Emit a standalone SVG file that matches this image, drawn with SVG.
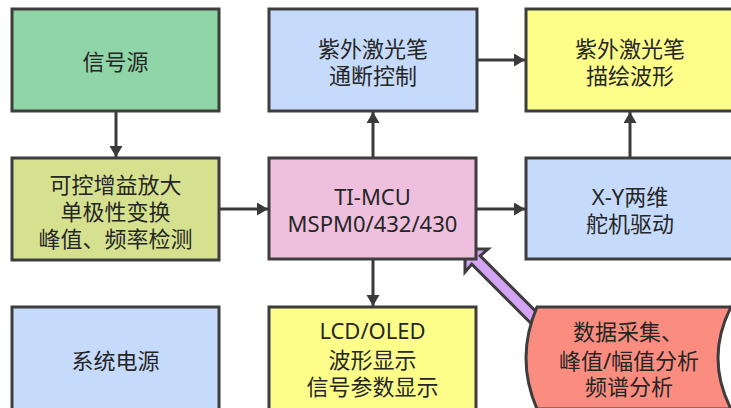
<svg xmlns="http://www.w3.org/2000/svg" width="731" height="408" viewBox="0 0 731 408">
<style>
.box{stroke:#3d3d3d;stroke-width:3}
.t{font-family:"Noto Sans","Noto Sans CJK SC",sans-serif;font-size:22px;fill:#262626;text-anchor:middle}
.c{stroke:#3a3a3a;stroke-width:3;fill:none;marker-end:url(#ah)}
</style>
<defs>
<marker id="ah" markerUnits="userSpaceOnUse" markerWidth="14" markerHeight="14" refX="11" refY="6.5" orient="auto">
<path d="M0,0 L11,6.5 L0,13 z" fill="#3a3a3a"/>
</marker>
</defs>
<rect width="731" height="408" fill="#ffffff"/>
<g id="connectors">
<path class="c" d="M116,111 L116,157"/>
<path class="c" d="M219,209 L268,209"/>
<path class="c" d="M373,158 L373,112"/>
<path class="c" d="M477,60 L525,60"/>
<path class="c" d="M476,209 L525,209"/>
<path class="c" d="M630,158 L630,112"/>
<path class="c" d="M373,259 L373,306"/>
<polygon points="465,249 488,249 480.2,255.8 544.2,319.8 535.8,328.2 471.8,264.2 465,272" fill="#d6a4f6" stroke="#3d3d3d" stroke-width="3" stroke-linejoin="miter"/>
</g>
<g id="signal-source">
<rect class="box" x="12" y="9" width="207" height="102" fill="#90d5a8"/>
<text class="t" x="115.5" y="70">信号源</text>
</g>
<g id="amplifier">
<rect class="box" x="12" y="158" width="207" height="102" fill="#d5e18f"/>
<text class="t" x="115.5" y="193">可控增益放大</text>
<text class="t" x="115.5" y="220">单极性变换</text>
<text class="t" x="115.5" y="247">峰值、频率检测</text>
</g>
<g id="power">
<rect class="box" x="12" y="307" width="207" height="104" fill="#c6dbfb"/>
<text class="t" x="115.5" y="369">系统电源</text>
</g>
<g id="laser-switch">
<rect class="box" x="269" y="9" width="208" height="102" fill="#c6dbfb"/>
<text class="t" x="373" y="57">紫外激光笔</text>
<text class="t" x="373" y="84">通断控制</text>
</g>
<g id="mcu">
<rect class="box" x="269" y="158" width="207" height="101" fill="#efc0dd"/>
<text class="t" x="372.5" y="205">TI-MCU</text>
<text class="t" x="372.5" y="232">MSPM0/432/430</text>
</g>
<g id="display">
<rect class="box" x="269" y="307" width="207" height="104" fill="#fdfd8a"/>
<text class="t" x="372.5" y="339">LCD/OLED</text>
<text class="t" x="372.5" y="368">波形显示</text>
<text class="t" x="372.5" y="395">信号参数显示</text>
</g>
<g id="laser-draw">
<rect class="box" x="526" y="9" width="210" height="102" fill="#fdfd8a"/>
<text class="t" x="630" y="57">紫外激光笔</text>
<text class="t" x="630" y="84">描绘波形</text>
</g>
<g id="servo">
<rect class="box" x="526" y="158" width="210" height="101" fill="#c6dbfb"/>
<text class="t" x="630" y="205">X-Y两维</text>
<text class="t" x="630" y="232">舵机驱动</text>
</g>
<g id="analysis">
<path class="box" d="M537,307 L731,307 Q705,358 731,409 L537,409 Q515,358 537,307 Z" fill="#fa8d80"/>
<text class="t" x="628" y="340">数据采集、</text>
<text class="t" x="629" y="369">峰值/幅值分析</text>
<text class="t" x="629" y="395">频谱分析</text>
</g>
</svg>
